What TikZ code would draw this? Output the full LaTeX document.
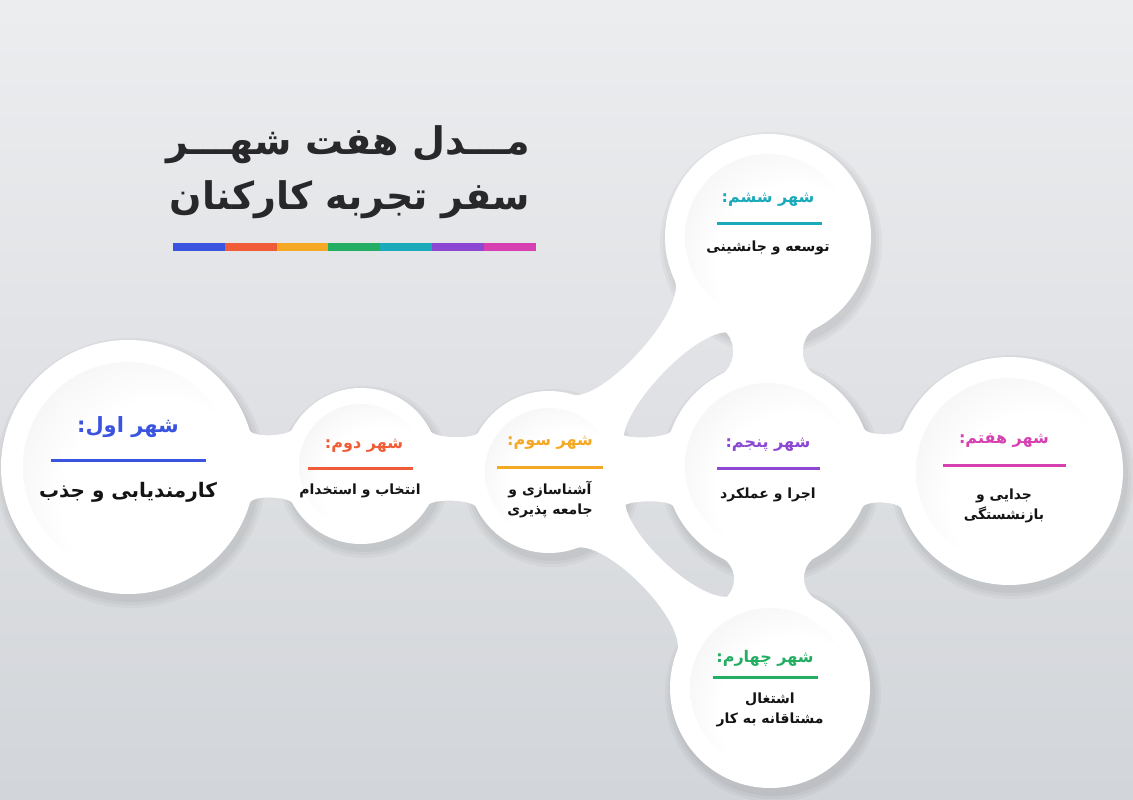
\documentclass[tikz,border=0pt]{standalone}
\usepackage{fontspec}
\usetikzlibrary{calc}
\TeXXeTstate=1
\newfontfamily\fa[Script=Arabic]{DejaVu Sans}
\newcommand\rtltxt[1]{\beginR #1\endR}
\definecolor{bgtop}{RGB}{236,237,239}
\definecolor{bgbot}{RGB}{210,213,217}
\definecolor{cblue}{RGB}{58,84,224}
\definecolor{cred}{RGB}{240,92,56}
\definecolor{corange}{RGB}{245,168,35}
\definecolor{cgreen}{RGB}{36,174,100}
\definecolor{cteal}{RGB}{26,170,185}
\definecolor{cpurple}{RGB}{140,72,210}
\definecolor{cmagenta}{RGB}{214,64,176}
\definecolor{ink}{RGB}{20,20,22}
\definecolor{titleink}{RGB}{40,40,42}
\pgfdeclareradialshading{inset}{\pgfpoint{13bp}{-13bp}}{color(0bp)=(white); color(24bp)=(white); color(48bp)=(black!8); color(66bp)=(black!15)}
\pgfdeclarelayer{bg}
\pgfdeclarelayer{bridges}
\pgfsetlayers{bg,bridges,main}
% #1 a, #2 b, #3 Ra, #4 Rb, #5 phi a, #6 phi b, #7 k a, #8 k b
\newcommand\bridge[8]{%
  \pgfmathsetmacro\dA{sqrt((#3)^2+(#7)^2)}%
  \pgfmathsetmacro\aA{#5-atan((#7)/(#3))}%
  \pgfmathsetmacro\aAm{-\aA}%
  \pgfmathsetmacro\dB{sqrt((#4)^2+(#8)^2)}%
  \pgfmathsetmacro\aB{#6-atan((#8)/(#4))}%
  \pgfmathsetmacro\aBm{-\aB}%
  \fill[white] ($(#1)!#3pt!#5:(#2)$) .. controls ($(#1)!\dA pt!\aA:(#2)$) and ($(#2)!\dB pt!\aBm:(#1)$) .. ($(#2)!#4pt!-#6:(#1)$)
    -- ($(#2)!#4pt!#6:(#1)$) .. controls ($(#2)!\dB pt!\aB:(#1)$) and ($(#1)!\dA pt!\aAm:(#2)$) .. ($(#1)!#3pt!-#5:(#2)$) -- cycle;
}
\newcommand\softshadow[2]{%
  \fill[black,opacity=0.03] ($(#1)+(3,6)$) circle ({#2+8pt});
  \fill[black,opacity=0.03] ($(#1)+(3,6)$) circle ({#2+5pt});
  \fill[black,opacity=0.035] ($(#1)+(3,6)$) circle ({#2+2pt});
}
\tikzset{
  city/.style={circle, fill=white, inner sep=0pt, minimum size=#1},
  disc/.style={circle, shade, shading=inset, inner sep=0pt, minimum size=#1},
  lab/.style={font=\fa\bfseries\fontsize{16}{18}\selectfont, text=#1, inner sep=0pt},
  body/.style={font=\fa\bfseries\fontsize{14}{20}\selectfont, text=ink, inner sep=0pt, align=center},
  rule/.style={fill=#1, inner sep=0pt, minimum height=3pt},
  seg/.style={fill=#1, inner sep=0pt, minimum width=51.8pt, minimum height=8pt},
  ttl/.style={font=\fa\bfseries\fontsize{38}{44}\selectfont, text=titleink, inner sep=0pt, anchor=east}
}
\begin{document}
\begin{tikzpicture}[x=1pt,y=-1pt]
\useasboundingbox (0,0) rectangle (1133,800);
\begin{pgfonlayer}{bg}
\shade[top color=bgtop, bottom color=bgbot] (0,0) rectangle (1133,800);
\end{pgfonlayer}

% cities
\node[city=254pt] (c1) at (128,467) {};
\node[city=156pt] (c2) at (361,466) {};
\node[city=162pt] (c3) at (549,472) {};
\node[city=206pt] (c6) at (768,237) {};
\node[city=206pt] (c5) at (768,466) {};
\node[city=228pt] (c7) at (1009,471) {};
\node[city=200pt] (c4) at (770,688) {};
\node[disc=210pt] (i1) at (c1) {};
\node[disc=124pt] (i2) at (c2) {};
\node[disc=128pt] (i3) at (c3) {};
\node[disc=166pt] (i6) at (c6) {};
\node[disc=166pt] (i5) at (c5) {};
\node[disc=186pt] (i7) at (c7) {};
\node[disc=160pt] (i4) at (c4) {};

\begin{pgfonlayer}{bg}
\softshadow{c1}{127pt}
\softshadow{c2}{78pt}
\softshadow{c3}{81pt}
\softshadow{c6}{103pt}
\softshadow{c5}{103pt}
\softshadow{c7}{114pt}
\softshadow{c4}{100pt}
\end{pgfonlayer}

\begin{pgfonlayer}{bridges}
\bridge{c1}{c2}{126.5}{77.5}{17}{29}{9}{9}
\bridge{c2}{c3}{77.5}{80.5}{29}{28}{9}{9}
\bridge{c3}{c5}{80.5}{102.5}{28}{22}{9}{9}
\bridge{c5}{c7}{102.5}{113.5}{23}{21}{9}{9}
\bridge{c6}{c5}{102.5}{102.5}{28}{28}{20}{20}
\bridge{c5}{c4}{102.5}{99.5}{28}{29}{20}{20}
\bridge{c3}{c6}{80.5}{102.5}{27}{23}{32}{34}
\bridge{c3}{c4}{80.5}{99.5}{27}{24}{32}{34}
\end{pgfonlayer}

% title
\node[ttl] (t1) at (530,145) {\rtltxt{مـــدل هفت شهـــر}};
\node[ttl] (t2) at (530,200) {\rtltxt{سفر تجربه کارکنان}};
\node[seg=cblue]    (b1) at (198.9,247) {};
\node[seg=cred]     (b2) at (250.7,247) {};
\node[seg=corange]  (b3) at (302.5,247) {};
\node[seg=cgreen]   (b4) at (354.3,247) {};
\node[seg=cteal]    (b5) at (406.1,247) {};
\node[seg=cpurple]  (b6) at (457.9,247) {};
\node[seg=cmagenta] (b7) at (509.7,247) {};

% city 1
\node[lab=cblue, font=\fa\bfseries\fontsize{21}{24}\selectfont] (l1) at (128,427) {\rtltxt{شهر اول:}};
\node[rule=cblue, minimum width=155pt] (u1) at (128,460) {};
\node[body, font=\fa\bfseries\fontsize{20}{24}\selectfont] (x1) at (128,492) {\rtltxt{کارمندیابی و جذب}};
% city 2
\node[lab=cred] (l2) at (364,446) {\rtltxt{شهر دوم:}};
\node[rule=cred, minimum width=105pt] (u2) at (360,468) {};
\node[body] (x2) at (360,491) {\rtltxt{انتخاب و استخدام}};
% city 3
\node[lab=corange] (l3) at (550,443) {\rtltxt{شهر سوم:}};
\node[rule=corange, minimum width=106pt] (u3) at (550,467) {};
\node[body] (x3) at (550,500) {\rtltxt{آشناسازی و}\\\rtltxt{جامعه پذیری}};
% city 6
\node[lab=cteal] (l6) at (768,200) {\rtltxt{شهر ششم:}};
\node[rule=cteal, minimum width=105pt] (u6) at (769,223) {};
\node[body] (x6) at (768,248) {\rtltxt{توسعه و جانشینی}};
% city 5
\node[lab=cpurple] (l5) at (768,445) {\rtltxt{شهر پنجم:}};
\node[rule=cpurple, minimum width=103pt] (u5) at (768,468) {};
\node[body] (x5) at (768,495) {\rtltxt{اجرا و عملکرد}};
% city 7
\node[lab=cmagenta] (l7) at (1004,440) {\rtltxt{شهر هفتم:}};
\node[rule=cmagenta, minimum width=123pt] (u7) at (1004,465) {};
\node[body] (x7) at (1004,506) {\rtltxt{جدایی و}\\\rtltxt{بازنشستگی}};
% city 4
\node[lab=cgreen] (l4) at (765,658) {\rtltxt{شهر چهارم:}};
\node[rule=cgreen, minimum width=105pt] (u4) at (765,677) {};
\node[body] (x4) at (770,710) {\rtltxt{اشتغال}\\\rtltxt{مشتاقانه به کار}};
\end{tikzpicture}
\end{document}
